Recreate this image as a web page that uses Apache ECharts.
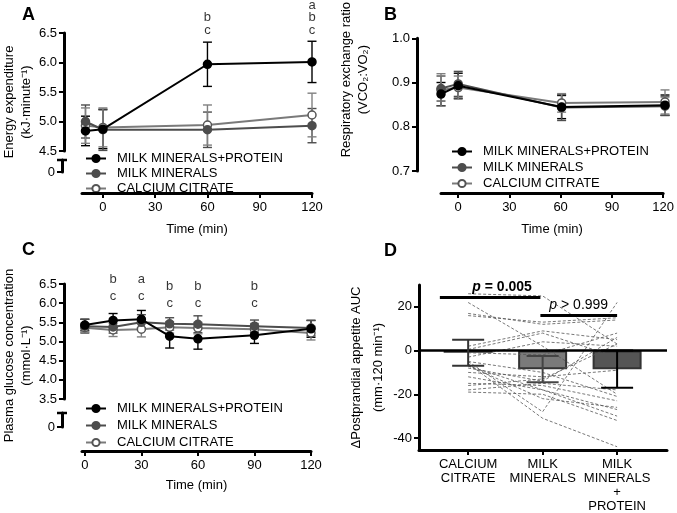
<!DOCTYPE html>
<html>
<head>
<meta charset="utf-8">
<script src="https://cdn.jsdelivr.net/npm/echarts@6/dist/echarts.min.js"></script>
<style>html,body{margin:0;padding:0;background:#fff}#chart{width:677px;height:513px}</style>
</head>
<body>
<div id="chart"></div>
<script>
// ---------- DATA ----------
const groupNames = ['MILK MINERALS+PROTEIN', 'MILK MINERALS', 'CALCIUM CITRATE'];

// Panel A: energy expenditure
const timeAB = [-10, 0, 60, 120];
const eeMMP = [4.84, 4.87, 5.97, 6.01];
const eeMMPErr = [0.25, 0.33, 0.375, 0.35];
const eeMM = [5.00, 4.86, 4.86, 4.93];
const eeMMErr = [0.28, 0.35, 0.30, 0.29];
const eeCC = [4.93, 4.90, 4.94, 5.11];
const eeCCErr = [0.30, 0.33, 0.34, 0.37];
const annATime = [60, 120];
const annAText = ['b\nc', 'a\nb\nc'];

// Panel B: respiratory exchange ratio
const rerMMP = [0.866, 0.884, 0.838, 0.842];
const rerMMPErr = [0.025, 0.027, 0.025, 0.022];
const rerMM = [0.878, 0.888, 0.837, 0.840];
const rerMMErr = [0.027, 0.027, 0.028, 0.020];
const rerCC = [0.875, 0.880, 0.847, 0.849];
const rerCCErr = [0.035, 0.025, 0.020, 0.026];

// Panel C: plasma glucose
const timeC = [0, 15, 30, 45, 60, 90, 120];
const gluMMP = [5.43, 5.55, 5.58, 5.14, 5.07, 5.16, 5.33];
const gluMMPErr = [0.15, 0.18, 0.23, 0.31, 0.27, 0.21, 0.22];
const gluMM = [5.40, 5.38, 5.50, 5.46, 5.45, 5.40, 5.35];
const gluMMErr = [0.18, 0.16, 0.20, 0.16, 0.22, 0.16, 0.20];
const gluCC = [5.36, 5.30, 5.32, 5.37, 5.35, 5.32, 5.22];
const gluCCErr = [0.12, 0.17, 0.20, 0.15, 0.15, 0.15, 0.18];
const annCTime = [15, 30, 45, 60, 90];
const annCText = ['b\nc', 'a\nc', 'b\nc', 'b\nc', 'b\nc'];
const annCY = [5.93, 5.93, 5.76, 5.76, 5.76];

// Panel D: appetite AUC
const dCategories = ['CALCIUM\nCITRATE', 'MILK\nMINERALS', 'MILK\nMINERALS\n+\nPROTEIN'];
const dMeans = [-1, -8.5, -8.5];
const dErr = [6, 6, 8.5];
const subjCC  = [26, 22, 17, 16, 2, 0.5, -1, -5, -6, -7, -8, -10, -12, -15, -16, -18, -19, -5, -3, -7];
const subjMM  = [25, 2, 12, 13, 9, 8, -2, -28, -31, -18, -14, -12, -18, -16, -13, -15, -20, -10, 4, -22];
const subjMMP = [3, -20, 14, 15, 5, -3, 8, 22, -44, -30, 6, -9, -27, -23, 3, -18, -32, -21, 2, -26];
const pTexts = ['{i|p}{b| = 0.005}', '{j|p}{n| > 0.999}'];
const pFrom = [-0.38, 0.97];
const pTo = [0.97, 2.0];
const pLevel = [24.5, 16];

// ---------- STYLE ----------
const FF = 'Liberation Sans, Arial, Helvetica, sans-serif';
const lineColors = ['#000000', '#4d4d4d', '#7a7a7a'];
const fillColors = ['#000000', '#4d4d4d', '#ffffff'];
const borderColors = ['#000000', '#4d4d4d', '#555555'];
const errColors = ['#000000', '#4d4d4d', '#808080'];

function errRender(capHalf, color, lw) {
  return function (params, api) {
    const x = api.value(0), lo = api.value(1), hi = api.value(2);
    const p1 = api.coord([x, hi]), p2 = api.coord([x, lo]);
    const c = typeof color === 'function' ? color(params.dataIndex) : color;
    const st = { stroke: c, lineWidth: lw };
    return { type: 'group', children: [
      { type: 'line', shape: { x1: p1[0], y1: p1[1], x2: p2[0], y2: p2[1] }, style: st },
      { type: 'line', shape: { x1: p1[0] - capHalf, y1: p1[1], x2: p1[0] + capHalf, y2: p1[1] }, style: st },
      { type: 'line', shape: { x1: p2[0] - capHalf, y1: p2[1], x2: p2[0] + capHalf, y2: p2[1] }, style: st }
    ]};
  };
}

function panelSeries(axisIdx, times, means, errs, tag) {
  const out = [];
  means.forEach((m, g) => {
    out.push({
      type: 'custom', name: 'err' + tag + g, xAxisIndex: axisIdx, yAxisIndex: axisIdx, z: 2,
      renderItem: errRender(4.5, errColors[g], 1.4), silent: true, clip: false,
      encode: { x: 0, y: [1, 2] },
      data: times.map((t, i) => [t, m[i] - errs[g][i], m[i] + errs[g][i]])
    });
  });
  [2, 1, 0].forEach(g => {
    out.push({
      type: 'line', name: groupNames[g], xAxisIndex: axisIdx, yAxisIndex: axisIdx, z: 3 + (2 - g),
      symbol: 'circle', symbolSize: 8, animation: false, clip: false,
      lineStyle: { color: lineColors[g], width: 2 },
      itemStyle: { color: fillColors[g], borderColor: borderColors[g], borderWidth: 1.5 },
      data: times.map((t, i) => [t, means[g][i]])
    });
  });
  return out;
}

function axisLineStyle() { return { show: true, onZero: false, lineStyle: { color: '#000000', width: 3 } }; }
function tickStyle(vals) {
  const o = { show: true, length: 5, lineStyle: { color: '#000000', width: 2 } };
  if (vals) o.customValues = vals;
  return o;
}
function labelStyle(extra) { return Object.assign({ color: '#000', fontSize: 13, fontFamily: FF }, extra || {}); }

function hiddenAxis(grid, min, max) {
  return { type: 'value', gridIndex: grid, min: min, max: max, show: false, splitLine: { show: false } };
}
function timeAxis(grid, min, max, ticks, gap) {
  return {
    type: 'value', gridIndex: grid, min: min, max: max, z: 10,
    axisLine: axisLineStyle(), axisTick: tickStyle(ticks),
    axisLabel: labelStyle({ customValues: ticks, margin: 8 }),
    splitLine: { show: false },
    name: 'Time (min)', nameLocation: 'middle', nameGap: gap,
    nameTextStyle: { color: '#000', fontSize: 13, fontFamily: FF }
  };
}
function valAxis(grid, min, max, interval, dec, name, gap, lh, pad) {
  return {
    type: 'value', gridIndex: grid, min: min, max: max, interval: interval, z: 10,
    axisLine: axisLineStyle(), axisTick: tickStyle(),
    axisLabel: labelStyle({ margin: 7, formatter: v => v.toFixed(dec) }),
    splitLine: { show: false },
    name: name, nameLocation: 'middle', nameGap: gap,
    nameTextStyle: { color: '#000', fontSize: 13, fontFamily: FF, lineHeight: lh, padding: pad }
  };
}
function zeroAxis(grid) {
  return {
    type: 'value', gridIndex: grid, min: 0, max: 1, z: 10,
    axisLine: { show: true, onZero: false, symbol: ['none', 'rect'], symbolSize: [10, 2.5], lineStyle: { color: '#000', width: 3 } },
    axisTick: tickStyle([0]),
    axisLabel: labelStyle({ customValues: [0], margin: 7 }),
    splitLine: { show: false }
  };
}
function legendAt(left, top, gap) {
  return {
    data: groupNames, orient: 'vertical', left: left, top: top,
    itemWidth: 20, itemHeight: 9, itemGap: gap, selectedMode: false,
    textStyle: { color: '#000', fontSize: 13, fontFamily: FF, padding: [0, 0, 0, 6] }
  };
}
function annSeries(axisIdx, times, texts, ys, lh, off) {
  return {
    type: 'scatter', xAxisIndex: axisIdx, yAxisIndex: axisIdx, symbolSize: 1, clip: false, silent: true,
    itemStyle: { color: 'transparent' }, z: 10,
    label: { show: true, position: 'top', distance: 0, offset: off, color: '#000', fontSize: 13, fontFamily: FF, lineHeight: lh, align: 'center' },
    data: times.map((t, i) => ({ value: [t, ys[i]], label: { formatter: texts[i] } }))
  };
}

// grid indices
const G = { Adata: 0, Ay: 1, Ax: 2, Alow: 3, Bdata: 4, By: 5, Bx: 6, Cdata: 7, Cy: 8, Cx: 9, Clow: 10, D: 11 };
const ticksT = [0, 30, 60, 90, 120];

// ---------- SERIES ----------
const series = [];
series.push(...panelSeries(G.Adata, timeAB, [eeMMP, eeMM, eeCC], [eeMMPErr, eeMMErr, eeCCErr], 'A'));
series.push(...panelSeries(G.Bdata, timeAB, [rerMMP, rerMM, rerCC], [rerMMPErr, rerMMErr, rerCCErr], 'B'));
series.push(...panelSeries(G.Cdata, timeC, [gluMMP, gluMM, gluCC], [gluMMPErr, gluMMErr, gluCCErr], 'C'));
series.push(annSeries(G.Adata, annATime, annAText, annATime.map(() => 6.5), 12.5, [0, 4]));
series.push(annSeries(G.Cdata, annCTime, annCText, annCY, 17, [0, 0]));

// Panel D
const barFill = ['#ffffff', '#7a7a7a', '#555555'];
const dErrColors = ['#333333', '#444444', '#000000'];
const markData = [{ yAxis: 0, lineStyle: { width: 2.5, color: '#000', type: 'solid' }, label: { show: false } }];
pTexts.forEach((t, i) => {
  markData.push([
    { coord: [pFrom[i], pLevel[i]], lineStyle: { width: 3, color: '#000', type: 'solid' },
      label: { show: true, position: 'insideMiddleTop', distance: 3, formatter: t, offset: [i === 0 ? 12 : 0, 0],
        rich: {
          i: { fontStyle: 'italic', fontWeight: 'bold', fontSize: 14, fontFamily: FF, color: '#000' },
          b: { fontWeight: 'bold', fontSize: 14, fontFamily: FF, color: '#000' },
          j: { fontStyle: 'italic', fontSize: 14, fontFamily: FF, color: '#000' },
          n: { fontSize: 14, fontFamily: FF, color: '#000' }
        } } },
    { coord: [pTo[i], pLevel[i]] }
  ]);
});
series.push({
  type: 'bar', name: 'barsD', xAxisIndex: G.D, yAxisIndex: G.D, barWidth: 49, z: 2, silent: true,
  data: dMeans.map((m, i) => ({ value: [i, m], itemStyle: { color: barFill[i], borderColor: '#333', borderWidth: 2 } })),
  markLine: { silent: true, symbol: ['none', 'none'], animation: false, data: markData }
});
subjCC.forEach((v, k) => {
  series.push({
    type: 'line', name: 'subj' + k, xAxisIndex: G.D, yAxisIndex: G.D, z: 4, symbol: 'none', silent: true, animation: false,
    lineStyle: { color: '#555', width: 0.8, type: [3, 2] },
    data: [[0, subjCC[k]], [1, subjMM[k]], [2, subjMMP[k]]]
  });
});
series.push({
  type: 'custom', name: 'errD', xAxisIndex: G.D, yAxisIndex: G.D, z: 6, silent: true,
  renderItem: errRender(16, i => dErrColors[i], 2),
  encode: { x: 0, y: [1, 2] },
  data: dMeans.map((m, i) => [i, m - dErr[i], m + dErr[i]])
});

// ---------- OPTION ----------
const option = {
  animation: false,
  backgroundColor: '#ffffff',
  textStyle: { fontFamily: FF },
  title: [
    { text: 'A', left: 17, top: 1 }, { text: 'B', left: 379, top: 1 },
    { text: 'C', left: 17, top: 236 }, { text: 'D', left: 379, top: 237 }
  ].map(t => Object.assign(t, { textStyle: { fontSize: 18, fontWeight: 'bold', color: '#000', fontFamily: FF } })),
  legend: [legendAt(80, 147, 2), legendAt(446, 140, 3), legendAt(80, 397, 4)],
  grid: [
    { left: 82, top: 33, width: 230, height: 118 },   // A data
    { left: 62, top: 33, width: 250, height: 118 },   // A y axis
    { left: 82, top: 33, width: 230, height: 160 },   // A x axis
    { left: 62, top: 160, width: 250, height: 12 },   // A lower y segment
    { left: 441, top: 32, width: 224, height: 139 },  // B data
    { left: 417, top: 32, width: 248, height: 139 },  // B y axis
    { left: 441, top: 32, width: 224, height: 161 },  // B x axis
    { left: 82, top: 284, width: 229, height: 115 },  // C data
    { left: 62, top: 284, width: 249, height: 115 },  // C y axis
    { left: 82, top: 284, width: 229, height: 167 },  // C x axis
    { left: 62, top: 413, width: 249, height: 14 },   // C lower y segment
    { left: 419, top: 285, width: 248, height: 166 }  // D
  ],
  xAxis: [
    hiddenAxis(G.Adata, -12, 120),
    hiddenAxis(G.Ay, 0, 1),
    timeAxis(G.Ax, -12, 120, ticksT, 30),
    hiddenAxis(G.Alow, 0, 1),
    hiddenAxis(G.Bdata, -10, 120),
    hiddenAxis(G.By, 0, 1),
    timeAxis(G.Bx, -10, 120, ticksT, 30),
    hiddenAxis(G.Cdata, -1.5, 120),
    hiddenAxis(G.Cy, 0, 1),
    timeAxis(G.Cx, -1.5, 120, ticksT, 28),
    hiddenAxis(G.Clow, 0, 1),
    {
      type: 'value', gridIndex: G.D, min: -0.66, max: 2.67, z: 10,
      axisLine: axisLineStyle(), axisTick: tickStyle([0, 1, 2]),
      axisLabel: labelStyle({ customValues: [0, 1, 2], margin: 7, lineHeight: 14, formatter: v => dCategories[Math.round(v)] }),
      splitLine: { show: false }
    }
  ],
  yAxis: [
    hiddenAxis(G.Adata, 4.5, 6.5),
    valAxis(G.Ay, 4.5, 6.5, 0.5, 1, 'Energy expenditure\n(kJ·minute⁻¹)', 28, 17, [0, 20, 0, 0]),
    hiddenAxis(G.Ax, 0, 1),
    zeroAxis(G.Alow),
    hiddenAxis(G.Bdata, 0.7, 1.0),
    valAxis(G.By, 0.7, 1.0, 0.1, 1, 'Respiratory exchange ratio\n(VCO₂:VO₂)', 45, 17, [0, 0, 0, 50]),
    hiddenAxis(G.Bx, 0, 1),
    hiddenAxis(G.Cdata, 3.5, 6.5),
    valAxis(G.Cy, 3.5, 6.5, 0.5, 1, 'Plasma glucose concentration\n(mmol·L⁻¹)', 28, 17, [0, 28, 0, 0]),
    hiddenAxis(G.Cx, 0, 1),
    zeroAxis(G.Clow),
    {
      type: 'value', gridIndex: G.D, min: -45.5, max: 30, z: 10,
      axisLine: axisLineStyle(), axisTick: tickStyle([-40, -20, 0, 20]),
      axisLabel: labelStyle({ customValues: [-40, -20, 0, 20], margin: 7 }),
      splitLine: { show: false },
      name: 'ΔPostprandial appetite AUC\n(mm·120 min⁻¹)', nameLocation: 'middle', nameGap: 25,
      nameTextStyle: { color: '#000', fontSize: 13, fontFamily: FF, lineHeight: 22 }
    }
  ],
  series: series
};

const chart = echarts.init(document.getElementById('chart'), null, { renderer: 'canvas' });
chart.setOption(option);
</script>
</body>
</html>
